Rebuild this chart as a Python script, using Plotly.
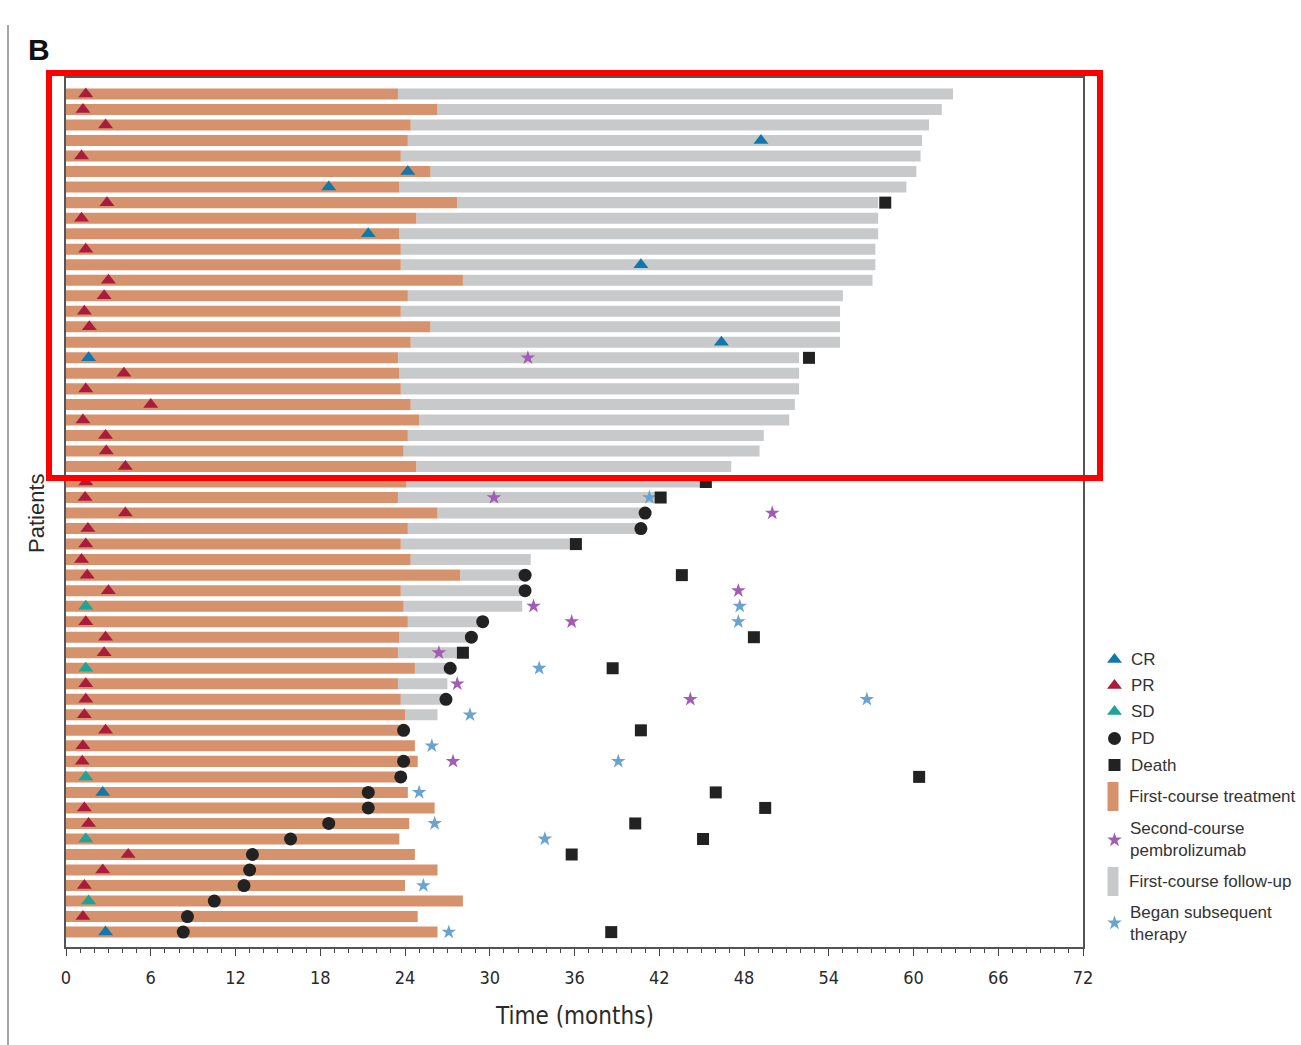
import plotly.graph_objects as go

H = 1045
# Horizontal calibration of the rendering pipeline (observed: x_shot = 0.9886 * x_fig + 5)
SX, OX = 0.9886, 5.0
W = 1316


def fx(px):
    """target screenshot x-pixel -> figure x-pixel"""
    return (px - OX) / SX


# ---------------- data (months) ----------------
patients = list(range(1, 56))

treat_end = [23.5, 26.3, 24.4, 24.2, 23.7, 25.8, 23.6, 27.7, 24.8, 23.6,
             23.7, 23.7, 28.1, 24.2, 23.7, 25.8, 24.4, 23.5, 23.6, 23.7,
             24.4, 25.0, 24.2, 23.9, 24.8, 24.1, 23.5, 26.3, 24.2, 23.7,
             24.4, 27.9, 23.7, 23.9, 24.2, 23.6, 23.5, 24.7, 23.5, 23.7,
             24.0, 23.7, 24.7, 24.9, 23.7, 24.2, 26.1, 24.3, 23.6, 24.7,
             26.3, 24.0, 28.1, 24.9, 26.3]

followup_end = [62.8, 62.0, 61.1, 60.6, 60.5, 60.2, 59.5, 57.5, 57.5, 57.5,
                57.3, 57.3, 57.1, 55.0, 54.8, 54.8, 54.8, 51.9, 51.9, 51.9,
                51.6, 51.2, 49.4, 49.1, 47.1, 44.9, 42.0, 41.0, 40.7, 35.8,
                32.9, 32.5, 32.5, 32.3, 29.5, 28.7, 28.1, 27.2, 27.0, 26.9,
                26.3, 23.7, 24.7, 24.9, 23.7, 24.2, 26.1, 24.3, 23.6, 24.7,
                26.3, 24.0, 28.1, 24.9, 26.3]

response_type = ["PR", "PR", "PR", "CR", "PR", "CR", "CR", "PR", "PR", "CR",
                 "PR", "CR", "PR", "PR", "PR", "PR", "CR", "CR", "PR", "PR",
                 "PR", "PR", "PR", "PR", "PR", "PR", "PR", "PR", "PR", "PR",
                 "PR", "PR", "PR", "SD", "PR", "PR", "PR", "SD", "PR", "PR",
                 "PR", "PR", "PR", "PR", "SD", "CR", "PR", "PR", "SD", "PR",
                 "PR", "PR", "SD", "PR", "CR"]

response_time = [1.4, 1.2, 2.8, 49.2, 1.1, 24.2, 18.6, 2.9, 1.1, 21.4,
                 1.4, 40.7, 3.0, 2.7, 1.3, 1.65, 46.4, 1.6, 4.1, 1.4,
                 6.0, 1.2, 2.8, 2.85, 4.2, 1.4, 1.35, 4.2, 1.55, 1.4,
                 1.1, 1.5, 3.0, 1.4, 1.4, 2.8, 2.7, 1.4, 1.4, 1.4,
                 1.3, 2.8, 1.2, 1.15, 1.4, 2.6, 1.3, 1.6, 1.4, 4.4,
                 2.6, 1.3, 1.6, 1.2, 2.8]

N = None
pd_time = [N, N, N, N, N, N, N, N, N, N,
           N, N, N, N, N, N, N, N, N, N,
           N, N, N, N, N, N, N, 41.0, 40.7, N,
           N, 32.5, 32.5, N, 29.5, 28.7, N, 27.2, N, 26.9,
           N, 23.9, N, 23.9, 23.7, 21.4, 21.4, 18.6, 15.9, 13.2,
           13.0, 12.6, 10.5, 8.6, 8.3]

death_time = [N, N, N, N, N, N, N, 58.0, N, N,
              N, N, N, N, N, N, N, 52.6, N, N,
              N, N, N, N, N, 45.3, 42.1, N, N, 36.1,
              N, 43.6, N, N, N, 48.7, 28.1, 38.7, N, N,
              N, 40.7, N, N, 60.4, 46.0, 49.5, 40.3, 45.1, 35.8,
              N, N, N, N, 38.6]

second_course = [N, N, N, N, N, N, N, N, N, N,
                 N, N, N, N, N, N, N, 32.7, N, N,
                 N, N, N, N, N, N, 30.3, 50.0, N, N,
                 N, N, 47.6, 33.1, 35.8, N, 26.4, N, 27.7, 44.2,
                 N, N, N, 27.4, N, N, N, N, N, N,
                 N, N, N, N, N]

subsequent_therapy = [N, N, N, N, N, N, N, N, N, N,
                      N, N, N, N, N, N, N, N, N, N,
                      N, N, N, N, N, N, 41.3, N, N, N,
                      N, N, N, 47.7, 47.6, N, N, 33.5, N, 56.7,
                      28.6, N, 25.9, 39.1, N, 25.0, N, 26.1, 33.9, N,
                      N, 25.3, N, N, 27.1]

x_ticks = list(range(0, 73, 6))

legend_labels = ["CR", "PR", "SD", "PD", "Death", "First-course treatment",
                 "Second-course<br>pembrolizumab", "First-course follow-up",
                 "Began subsequent<br>therapy"]

# ---------------- styles ----------------
C_ORANGE = "#D6926C"
C_GRAY = "#C8C9CB"
C_CR = "#1078AA"
C_PR = "#AA1C3C"
C_SD = "#1AA596"
C_BLACK = "#222222"
C_PURPLE = "#A35CB5"
C_BLUE = "#6AA3CF"
TXT = "#2a2a2a"
NARROW = "Liberation Sans Narrow, Arial Narrow, DejaVu Sans Condensed, Liberation Sans, sans-serif"
SANS = "Liberation Sans, Arial, sans-serif"

BAR_W = 0.71
TRI = 13
CIRC = 13
SQ = 12
STAR = 11

fig = go.Figure()

followup_len = [f - t for f, t in zip(followup_end, treat_end)]

fig.add_trace(go.Bar(y=patients, x=followup_len, base=treat_end, orientation="h",
                     width=BAR_W, marker=dict(color=C_GRAY, line=dict(width=0)),
                     name="First-course follow-up", showlegend=False))
fig.add_trace(go.Bar(y=patients, x=treat_end, base=[0] * len(patients), orientation="h",
                     width=BAR_W, marker=dict(color=C_ORANGE, line=dict(width=0)),
                     name="First-course treatment", showlegend=False))

# stars
fig.add_trace(go.Scatter(x=second_course, y=patients, mode="markers",
                         marker=dict(symbol="star", size=STAR, color=C_PURPLE, line=dict(width=0)),
                         showlegend=False))
fig.add_trace(go.Scatter(x=subsequent_therapy, y=patients, mode="markers",
                         marker=dict(symbol="star", size=STAR, color=C_BLUE, line=dict(width=0)),
                         showlegend=False))

# responses
for rtype, col in (("CR", C_CR), ("PR", C_PR), ("SD", C_SD)):
    xs = [t if r == rtype else None for r, t in zip(response_type, response_time)]
    fig.add_trace(go.Scatter(x=xs, y=patients, mode="markers",
                             marker=dict(symbol="triangle-up", size=TRI, color=col, line=dict(width=0)),
                             showlegend=False))

fig.add_trace(go.Scatter(x=pd_time, y=patients, mode="markers",
                         marker=dict(symbol="circle", size=CIRC, color=C_BLACK, line=dict(width=0)),
                         showlegend=False))
fig.add_trace(go.Scatter(x=death_time, y=patients, mode="markers",
                         marker=dict(symbol="square", size=SQ, color=C_BLACK, line=dict(width=0)),
                         showlegend=False))

# ---------------- manual legend (pixel overlay axes) ----------------
LX_SYM = fx(1114.5)
LX_TXT = 1128
leg_marker_y = [659.5, 685.5, 711.5, 738.5, 765]
leg_marker_sym = ["triangle-up", "triangle-up", "triangle-up", "circle", "square"]
leg_marker_col = [C_CR, C_PR, C_SD, C_BLACK, C_BLACK]
leg_marker_size = [TRI, TRI, TRI, CIRC, SQ]
for yy, sym, col, sz in zip(leg_marker_y, leg_marker_sym, leg_marker_col, leg_marker_size):
    fig.add_trace(go.Scatter(x=[LX_SYM], y=[yy], xaxis="x2", yaxis="y2", mode="markers",
                             marker=dict(symbol=sym, size=sz, color=col, line=dict(width=0)),
                             showlegend=False, hoverinfo="skip"))
for yy, col in ((840, C_PURPLE), (923, C_BLUE)):
    fig.add_trace(go.Scatter(x=[LX_SYM], y=[yy], xaxis="x2", yaxis="y2", mode="markers",
                             marker=dict(symbol="star", size=STAR, color=col, line=dict(width=0)),
                             showlegend=False, hoverinfo="skip"))

shapes = []
for (y0, y1), col in (((782, 811), C_ORANGE), ((867, 896), C_GRAY)):
    shapes.append(dict(type="rect", xref="x2", yref="y2", x0=fx(1107.5), x1=fx(1118.5), y0=y0, y1=y1,
                       fillcolor=col, line=dict(width=0)))

leg_text_y = [659.5, 685.5, 711.5, 738.5, 765.5, 796, 839.5, 881.5, 923]
leg_text_x = [LX_TXT + 1] * 5 + [LX_TXT - 1, LX_TXT, LX_TXT - 1, LX_TXT]
annotations = []
for lbl, xx, yy in zip(legend_labels, leg_text_x, leg_text_y):
    annotations.append(dict(xref="x2", yref="y2", x=fx(xx), y=yy, text=lbl, showarrow=False,
                            xanchor="left", yanchor="middle", align="left",
                            font=dict(family=SANS, size=17, color="#333")))

# titles
annotations.append(dict(xref="x2", yref="y2", x=fx(574), y=1016, text="Time (months)", showarrow=False,
                        xanchor="center", yanchor="middle", font=dict(family=NARROW, size=24, color=TXT)))
annotations.append(dict(xref="x2", yref="y2", x=fx(36), y=513, text="Patients", showarrow=False,
                        textangle=-90, xanchor="center", yanchor="middle",
                        font=dict(family=SANS, size=22, color=TXT)))
annotations.append(dict(xref="x2", yref="y2", x=fx(39), y=49, text="<b>B</b>", showarrow=False,
                        xanchor="center", yanchor="middle", font=dict(family=SANS, size=30, color="#111")))

# page edge line and red highlight box
shapes.append(dict(type="line", xref="x2", yref="y2", x0=fx(8), x1=fx(8), y0=25, y1=1045,
                   line=dict(color="#888", width=1.5)))
shapes.append(dict(type="rect", xref="x2", yref="y2", x0=fx(49), x1=fx(1100), y0=73, y1=478,
                   line=dict(color="#FF0000", width=6), fillcolor="rgba(0,0,0,0)", layer="above"))

fig.update_layout(
    width=W, height=H, autosize=False,
    margin=dict(l=0, r=0, t=0, b=0),
    paper_bgcolor="white", plot_bgcolor="rgba(0,0,0,0)",
    barmode="overlay", showlegend=False,
    xaxis=dict(domain=[fx(66) / W, fx(1083) / W], range=[0, 72], tickvals=x_ticks,
               ticks="outside", ticklen=7, tickwidth=1, tickcolor="#444",
               minor=dict(ticks="outside", dtick=1, tick0=0, ticklen=4, tickwidth=1, tickcolor="#444"),
               showline=True, mirror=True, linecolor="#555", linewidth=1.5,
               showgrid=False, zeroline=False, ticklabelstandoff=7,
               tickfont=dict(family=NARROW, size=18, color=TXT), anchor="y"),
    yaxis=dict(domain=[(H - 947) / H, (H - 78) / H], range=[55.96, -0.03],
               showticklabels=False, ticks="", showline=True, mirror=True,
               linecolor="#555", linewidth=1.5, showgrid=False, zeroline=False, anchor="x"),
    xaxis2=dict(domain=[0, 1], range=[0, W], visible=False, anchor="y2", fixedrange=True),
    yaxis2=dict(domain=[0, 1], range=[H, 0], visible=False, anchor="x2", fixedrange=True),
    shapes=shapes, annotations=annotations,
)

fig.write_html("out.html", config={"displayModeBar": False},
               post_script="document.body.style.margin='0';document.body.style.overflow='hidden';"
                           "document.documentElement.style.overflow='hidden';")
